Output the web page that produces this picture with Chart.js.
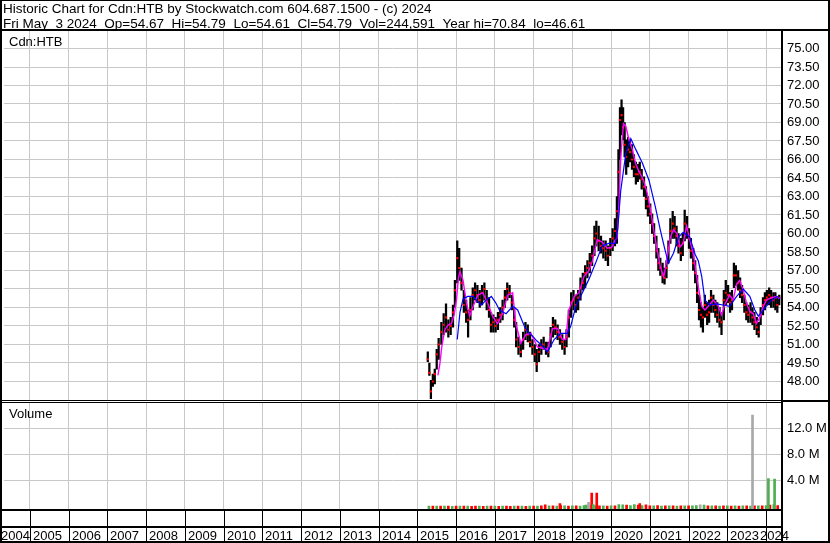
<!DOCTYPE html>
<html>
<head>
<meta charset="utf-8">
<script src="https://cdn.jsdelivr.net/npm/chart.js@4.4.1/dist/chart.umd.min.js"></script>
<style>
  html, body { margin: 0; padding: 0; background: #fff; }
  canvas { display: block; }
</style>
</head>
<body>
<canvas id="c" width="830" height="543"></canvas>
<script>
// ---------- text ----------
const titleLine1 = "Historic Chart for Cdn:HTB by Stockwatch.com 604.687.1500 - (c) 2024";
const titleLine2 = "Fri May  3 2024  Op=54.67  Hi=54.79  Lo=54.61  Cl=54.79  Vol=244,591  Year hi=70.84  lo=46.61";
const symbolLabel = "Cdn:HTB";
const volumeLabel = "Volume";

// ---------- tick labels ----------
const yearTicks = [2004,2005,2006,2007,2008,2009,2010,2011,2012,2013,2014,2015,2016,2017,2018,2019,2020,2021,2022,2023,2024];
const priceTicks = [48,49.5,51,52.5,54,55.5,57,58.5,60,61.5,63,64.5,66,67.5,69,70.5,72,73.5,75];
const volumeTicks = [4000000, 8000000, 12000000];

// ---------- price bars (decimal year, low, high, close) ----------
const dates = [2015.27,2015.31,2015.35,2015.40,2015.45,2015.50,2015.55,2015.62,2015.68,2015.74,2015.80,2015.86,2015.92,2015.97,
2016.03,2016.08,2016.14,2016.20,2016.26,2016.31,2016.37,2016.43,2016.49,2016.55,2016.61,2016.67,2016.73,2016.79,2016.85,2016.90,2016.96,
2017.02,2017.08,2017.14,2017.20,2017.26,2017.32,2017.38,2017.44,2017.50,2017.55,2017.61,2017.67,2017.73,2017.79,2017.85,2017.91,2017.97,
2018.03,2018.08,2018.14,2018.20,2018.26,2018.32,2018.38,2018.44,2018.50,2018.56,2018.62,2018.68,2018.74,2018.80,2018.85,2018.91,2018.97,
2019.03,2019.09,2019.15,2019.21,2019.27,2019.33,2019.39,2019.45,2019.51,2019.57,2019.62,2019.68,2019.74,2019.80,2019.86,2019.92,2019.98,
2020.04,2020.10,2020.15,2020.19,2020.23,2020.27,2020.31,2020.35,2020.39,2020.44,2020.49,2020.54,2020.59,2020.64,2020.69,2020.74,2020.79,2020.85,2020.90,2020.95,
2021.01,2021.06,2021.11,2021.17,2021.22,2021.27,2021.33,2021.38,2021.43,2021.48,2021.53,2021.59,2021.64,2021.69,2021.74,2021.80,2021.85,2021.90,2021.96,
2022.01,2022.06,2022.12,2022.17,2022.22,2022.27,2022.32,2022.37,2022.42,2022.48,2022.53,2022.58,2022.64,2022.69,2022.74,2022.80,2022.85,2022.91,2022.96,
2023.02,2023.07,2023.12,2023.17,2023.22,2023.28,2023.33,2023.38,2023.44,2023.49,2023.54,2023.60,2023.65,2023.70,2023.76,2023.81,2023.86,2023.92,2023.97,
2024.02,2024.08,2024.13,2024.19,2024.24,2024.29,2024.34];
const lows = [49.6,48.5,46.6,47.6,47.8,49.0,49.8,51.0,51.8,52.0,51.6,51.8,52.4,54.0,
56.0,56.2,55.4,53.6,52.8,51.6,53.0,53.8,54.6,54.4,54.0,54.2,54.6,53.8,53.2,52.0,52.0,
52.0,52.2,52.8,53.0,54.0,54.6,54.8,53.8,52.4,50.8,50.2,50.0,50.6,51.4,51.2,50.8,50.2,
49.6,48.8,49.6,50.2,50.6,50.2,50.0,50.8,51.6,51.8,51.4,51.0,50.6,50.2,50.8,51.6,53.2,
53.8,53.6,53.8,54.6,55.4,55.6,56.4,56.8,57.4,58.2,59.0,58.6,58.4,58.0,57.8,57.4,58.2,
58.6,59.0,59.2,62.0,66.0,68.0,67.6,66.2,64.8,65.4,65.8,65.2,64.6,64.0,64.2,64.4,63.6,63.0,62.0,61.4,
60.8,60.0,59.2,58.0,57.0,56.6,56.0,55.9,56.4,57.6,59.2,59.6,59.6,59.0,58.4,57.8,58.2,59.4,59.6,
58.8,58.0,57.0,56.0,54.4,53.0,52.4,52.0,53.2,52.6,52.8,53.6,53.6,53.2,52.8,52.4,51.8,53.0,54.2,
54.4,53.6,53.8,55.6,55.8,55.4,54.8,54.4,53.6,53.0,52.8,52.8,52.6,52.2,51.8,51.6,52.6,53.4,53.8,
54.2,54.2,54.0,54.0,53.8,53.6,54.2];
const highs = [50.4,49.5,48.1,48.6,49.0,50.6,51.5,52.8,53.5,54.3,53.0,53.2,54.2,56.2,
59.4,58.8,57.2,55.4,54.6,53.8,54.8,55.6,56.0,55.8,55.4,55.8,56.0,55.4,54.8,53.6,53.4,
53.2,53.6,54.0,54.6,55.4,56.0,55.8,55.0,54.0,52.8,51.6,51.2,52.0,52.8,52.6,52.0,51.4,
51.0,50.6,51.0,51.4,51.6,51.2,51.2,52.4,53.2,53.0,52.6,52.2,51.8,51.4,52.2,53.8,55.2,
55.4,55.0,55.4,56.4,56.8,57.4,57.8,58.4,59.0,60.6,61.0,60.6,59.8,59.4,59.4,59.0,59.6,
60.4,61.2,63.0,66.8,70.2,70.84,70.2,69.0,67.6,67.8,67.6,67.2,66.4,65.8,65.6,65.8,65.2,64.6,63.8,63.0,
62.4,61.6,60.8,59.8,58.8,58.0,57.6,57.2,57.8,59.4,61.2,61.8,61.4,60.6,60.0,59.6,60.0,61.9,61.4,
60.4,59.6,58.8,57.8,56.6,55.0,54.4,54.0,55.0,54.4,54.6,55.4,55.0,54.6,54.4,54.0,53.6,55.4,56.2,
55.8,55.2,55.4,57.6,57.4,57.0,56.4,55.8,55.0,54.4,54.2,54.4,54.0,53.6,53.2,52.8,54.0,54.8,55.2,
55.4,55.6,55.4,55.2,55.2,54.8,55.0];
const closes = [49.8,48.7,47.2,48.0,48.6,50.2,51.0,52.0,52.6,53.2,52.2,52.5,53.6,55.4,
58.0,57.2,56.0,54.2,53.6,53.0,53.8,55.0,55.4,55.0,54.6,55.2,55.5,54.6,53.8,52.6,52.8,
52.5,53.0,53.4,54.0,54.8,55.5,55.2,54.4,53.0,51.4,50.8,50.4,51.4,52.2,51.8,51.2,50.8,
50.2,49.4,50.4,50.8,51.0,50.6,50.4,51.8,52.6,52.4,52.0,51.6,51.2,50.8,51.6,53.2,54.4,
54.6,54.2,54.8,55.6,56.0,56.8,57.2,57.6,58.2,59.6,60.0,59.4,59.0,58.8,58.6,58.2,58.8,
59.6,60.2,61.8,65.0,69.2,69.6,68.6,67.2,66.2,66.8,66.6,66.0,65.4,64.8,64.8,65.0,64.4,63.8,62.8,62.2,
61.6,60.8,59.8,58.6,57.6,57.2,56.6,56.4,57.2,58.8,60.2,60.8,60.4,59.8,59.0,58.4,59.2,60.8,60.4,
59.6,58.6,57.6,56.8,55.2,53.8,53.4,53.2,54.2,53.4,53.6,54.8,54.2,53.8,53.4,53.0,52.8,54.6,55.2,
55.0,54.4,54.6,56.6,56.6,56.0,55.4,55.0,54.2,53.6,53.4,53.6,53.2,52.8,52.4,52.0,53.4,54.2,54.6,
54.8,55.0,54.8,54.6,54.8,54.2,54.79];

// ---------- short moving average (magenta) ----------
const fastDates = [2015.53,2015.58,2015.63,2015.71,2015.80,2015.88,2015.95,2016.01,2016.06,2016.10,2016.18,2016.27,2016.35,2016.44,2016.56,2016.69,2016.82,2016.94,
2017.07,2017.20,2017.33,2017.46,2017.54,2017.67,2017.80,2017.93,2018.10,2018.23,2018.36,2018.49,2018.62,2018.74,2018.83,2018.91,
2019.05,2019.17,2019.30,2019.43,2019.52,2019.64,2019.77,2019.90,2020.02,2020.11,2020.15,2020.19,2020.25,2020.32,2020.38,2020.46,2020.55,2020.63,2020.71,2020.84,2020.93,
2021.02,2021.10,2021.19,2021.27,2021.36,2021.44,2021.53,2021.61,2021.70,2021.78,2021.86,2021.95,2022.03,2022.12,2022.21,2022.25,2022.34,2022.42,2022.51,2022.64,2022.77,2022.85,2022.94,
2023.06,2023.15,2023.24,2023.32,2023.41,2023.50,2023.58,2023.67,2023.75,2023.84,2023.93,2024.01,2024.14,2024.28,2024.34];
const fastMA = [48.5,49.4,50.8,52.2,52.6,52.7,53.4,54.6,56.4,56.9,56.2,54.3,53.3,54.1,55.0,55.2,54.3,53.3,
52.7,53.5,55.0,55.2,52.7,51.1,51.8,51.9,50.8,50.7,50.6,52.3,52.3,51.4,51.4,53.8,
54.9,55.2,56.5,57.0,57.8,59.5,59.3,58.8,58.9,59.5,59.6,61.4,66.2,68.9,68.7,67.6,66.8,65.7,65.1,64.3,63.3,
61.9,60.3,58.7,57.3,56.5,57.9,59.7,60.3,60.0,58.9,59.2,60.6,59.5,58.4,56.5,55.7,54.1,53.8,54.1,54.6,54.1,53.4,54.3,
55.0,54.6,55.9,56.2,55.4,54.3,53.7,53.5,52.7,53.2,54.1,54.6,54.8,54.9,54.7];

// ---------- long moving average (blue) ----------
const slowDates = [2016.03,2016.10,2016.18,2016.30,2016.44,2016.55,2016.65,2016.78,2016.91,2017.02,2017.12,2017.29,2017.46,2017.59,2017.68,2017.76,2017.86,2017.97,
2018.08,2018.19,2018.36,2018.53,2018.70,2018.87,2018.96,2019.09,2019.26,2019.43,2019.60,2019.77,2019.94,2020.11,2020.17,2020.25,2020.38,2020.51,2020.64,2020.81,2020.98,
2021.14,2021.27,2021.39,2021.48,2021.61,2021.74,2021.86,2022.03,2022.17,2022.25,2022.34,2022.42,2022.55,2022.72,2022.89,
2023.06,2023.24,2023.41,2023.58,2023.71,2023.80,2023.93,2024.11,2024.28,2024.36];
const slowMA = [51.4,53.6,54.7,54.9,54.9,54.5,54.2,54.6,54.9,54.4,53.8,53.5,54.1,53.8,53.1,52.5,52.0,51.7,
51.3,51.0,50.4,51.4,51.9,51.9,52.5,54.1,55.2,56.3,57.6,59.0,59.2,59.2,60.3,63.5,66.5,67.7,66.8,65.7,64.3,
62.2,60.3,58.7,57.6,58.4,59.7,60.1,59.7,58.3,57.8,56.5,54.6,54.2,54.3,54.2,
54.1,54.9,55.5,54.9,53.8,53.3,53.8,54.5,54.9,54.7];

// ---------- volume ----------
const volDates = [2015.3,2015.4,2015.5,2015.6,2015.7,2015.8,2015.9,
2016.0,2016.1,2016.2,2016.3,2016.4,2016.5,2016.6,2016.7,2016.8,2016.9,
2017.0,2017.1,2017.2,2017.3,2017.4,2017.5,2017.6,2017.7,2017.8,2017.9,
2018.0,2018.1,2018.2,2018.3,2018.4,2018.5,2018.6,2018.7,2018.8,2018.9,
2019.0,2019.1,2019.2,2019.3,2019.4,2019.5,2019.6,2019.7,2019.8,2019.9,
2020.0,2020.1,2020.2,2020.3,2020.4,2020.5,2020.6,2020.7,2020.8,2020.9,
2021.0,2021.1,2021.2,2021.3,2021.4,2021.5,2021.6,2021.7,2021.8,2021.9,
2022.0,2022.1,2022.2,2022.3,2022.4,2022.5,2022.6,2022.7,2022.8,2022.9,
2023.0,2023.1,2023.2,2023.3,2023.4,2023.5,2023.6,2023.7,2023.8,2023.9,
2024.0,2024.1,2024.2,2024.3,
2018.68,2019.35,2019.42,2019.50,2019.54,2019.63,2020.74,2023.65,2024.06,2024.22];
const volumes = [60000,80000,50000,70000,50000,60000,40000,
60000,50000,70000,50000,40000,60000,50000,40000,50000,60000,
50000,40000,50000,60000,40000,50000,70000,50000,40000,50000,
80000,60000,100000,250000,100000,120000,80000,150000,100000,80000,
100000,120000,80000,150000,200000,200000,150000,120000,100000,80000,
100000,120000,300000,250000,200000,150000,300000,200000,150000,250000,
120000,100000,150000,80000,100000,120000,100000,80000,100000,120000,
100000,120000,150000,250000,200000,100000,120000,100000,80000,100000,
120000,80000,100000,80000,100000,120000,80000,100000,120000,100000,
150000,200000,300000,150000,
450000,200000,650000,2050000,300000,2050000,450000,14050000,4300000,4200000];
const volDir = ['g','r','g','r','g','r','g',
'r','g','r','g','r','r','g','r','g','r',
'g','r','g','r','r','g','r','g','r','g',
'r','g','r','r','g','r','g','r','g','r',
'g','r','g','g','n','r','g','r','g','r',
'g','r','g','g','r','g','g','r','g','r',
'r','g','r','g','r','g','r','g','r','g',
'r','g','g','n','g','r','g','r','g','r',
'g','r','g','r','g','r','g','r','g','r',
'g','r','g','r',
'r','g','n','r','g','r','r','n','g','g'];

// ---------- geometry of the scales ----------
const XMIN = 2004.3324, XMAX = 2024.3853;
const PMIN = 46.378, PMAX = 76.419;
const VMIN = -384600, VMAX = 16154000;

const FONT = "'Liberation Sans', Arial, sans-serif";
const dirColor = {g: '#4caf50', r: '#ff0000', n: '#a8a8a8'};

const priceBars = dates.map((d, i) => ({x: d, y: [lows[i], highs[i]]}));
const closeMarks = dates.map((d, i) => ({x: d, y: closes[i]}));
const fastLine = fastDates.map((d, i) => ({x: d, y: fastMA[i]}));
const slowLine = slowDates.map((d, i) => ({x: d, y: slowMA[i]}));
const volBars = volDates.map((d, i) => ({x: d, y: [VMIN, volumes[i]]}));

const framePlugin = {
  id: 'frame',
  beforeDraw(c) {
    const g = c.ctx;
    g.save();
    g.fillStyle = '#fff';
    g.fillRect(0, 0, c.width, c.height);
    g.restore();
  },
  afterDraw(c) {
    const g = c.ctx, xs = c.scales.x;
    const right = c.chartArea.right;
    g.save();
    g.fillStyle = '#000';
    g.textBaseline = 'alphabetic';
    g.textAlign = 'left';
    g.font = '13.5px ' + FONT;
    g.fillText(titleLine1, 3, 13);
    g.fillText(titleLine2, 3, 28);
    g.font = '13px ' + FONT;
    g.fillText(symbolLabel, 9, 46);
    g.fillText(volumeLabel, 9, 418);

    // panel separators
    g.fillRect(0, 29, 830, 2);
    g.fillStyle = '#fff';
    g.fillRect(0, 401, right, 1);
    g.fillStyle = '#000';
    g.fillRect(0, 400, right, 1);
    g.fillRect(0, 402, right, 1);
    g.fillRect(right + 2, 400, 830 - right - 2, 2);
    g.fillRect(0, 509, right, 2);
    g.fillRect(0, 526, right, 2);

    // date band
    yearTicks.forEach((yr, i) => {
      const px = Math.round(xs.getPixelForValue(yr));
      if (px >= 0 && px <= right) g.fillRect(px, 511, 1, 31);
      const w = g.measureText(String(yr)).width;
      let tx = px + 3;
      if (tx < 0) tx = Math.round(xs.getPixelForValue(yearTicks[i + 1])) - w;
      if (tx + w > right + 8) tx = right + 8 - w;
      g.fillText(String(yr), tx, 540);
    });

    // outer frame and right axis rule
    g.fillRect(right, 29, 2, 514);
    g.fillRect(0, 541, 830, 2);
    g.fillRect(0, 0, 2, 543);
    g.fillRect(828, 0, 2, 543);
    g.fillRect(0, 0, 830, 1);
    g.restore();
  }
};

new Chart(document.getElementById('c'), {
  data: {
    datasets: [
      {type: 'line', data: slowLine, borderColor: '#0000ff', borderWidth: 1.2, pointRadius: 0, tension: 0, yAxisID: 'y', order: 0},
      {type: 'line', data: fastLine, borderColor: '#ff00ff', borderWidth: 1.4, pointRadius: 0, tension: 0, yAxisID: 'y', order: 1},
      {type: 'scatter', data: closeMarks, backgroundColor: '#ff0000', pointStyle: 'rect', pointRadius: 1.5, pointBorderWidth: 0, yAxisID: 'y', order: 2},
      {type: 'bar', data: priceBars, backgroundColor: '#000', barThickness: 1.6, grouped: false, borderWidth: 0, yAxisID: 'y', order: 3},
      {type: 'bar', data: volBars, backgroundColor: volDir.map(d => dirColor[d]), barThickness: 2, grouped: false, borderWidth: 0, yAxisID: 'yv', order: 4}
    ]
  },
  options: {
    responsive: false,
    animation: false,
    devicePixelRatio: 1,
    events: [],
    layout: {padding: {top: 31, left: 0, right: 0, bottom: 34}},
    plugins: {legend: {display: false}, tooltip: {enabled: false}},
    scales: {
      x: {
        type: 'linear', min: XMIN, max: XMAX, position: 'bottom', offset: false,
        afterBuildTicks: s => { s.ticks = yearTicks.filter(v => v >= XMIN && v <= XMAX).map(v => ({value: v})); },
        ticks: {display: false},
        grid: {color: '#c8c8c8', lineWidth: 1, drawTicks: false, offset: false},
        border: {display: false}
      },
      y: {
        type: 'linear', position: 'right', stack: 'panels', stackWeight: 370.5,
        min: PMIN, max: PMAX,
        afterBuildTicks: s => { s.ticks = priceTicks.map(v => ({value: v})); },
        afterFit: s => { s.width = 49; },
        ticks: {autoSkip: false, padding: 6, color: '#000', font: {family: FONT, size: 13}, callback: v => Number(v).toFixed(2)},
        grid: {color: '#c8c8c8', lineWidth: 1, drawTicks: false},
        border: {display: false}
      },
      yv: {
        type: 'linear', position: 'right', stack: 'panels', stackWeight: 107.5,
        min: VMIN, max: VMAX,
        afterBuildTicks: s => { s.ticks = volumeTicks.map(v => ({value: v})); },
        afterFit: s => { s.width = 49; },
        ticks: {autoSkip: false, padding: 6, color: '#000', font: {family: FONT, size: 13}, callback: v => (v / 1e6).toFixed(1) + ' M'},
        grid: {color: '#c8c8c8', lineWidth: 1, drawTicks: false},
        border: {display: false}
      }
    }
  },
  plugins: [framePlugin]
});
</script>
</body>
</html>
